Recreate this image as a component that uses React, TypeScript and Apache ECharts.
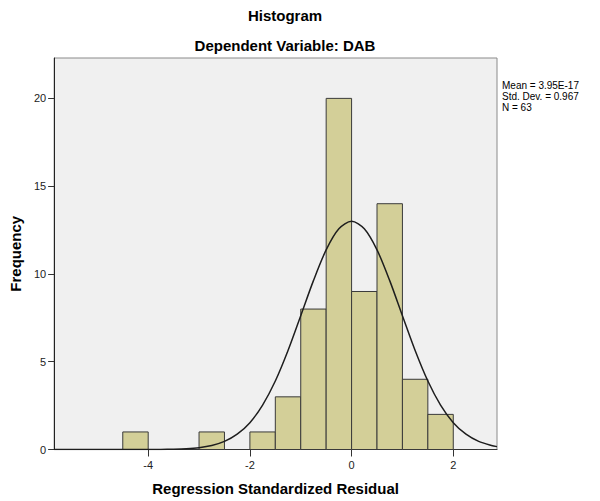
import React, { useEffect, useRef } from "react";
import * as echarts from "echarts";

// Histogram bins: [start, end] and frequency
const binStarts = [-4.5, -3, -2, -1.5, -1, -0.5, 0, 0.5, 1, 1.5];
const binEnds = [-4, -2.5, -1.5, -1, -0.5, 0, 0.5, 1, 1.5, 2];
const counts = [1, 1, 1, 3, 8, 20, 9, 14, 4, 2];

// Normal curve
const curveX = [-5.85, -5.5, -5, -4.5, -4.25, -4, -3.75, -3.5, -3.25, -3, -2.75, -2.5, -2.25, -2, -1.75, -1.5, -1.25, -1, -0.75, -0.5, -0.25, 0, 0.25, 0.5, 0.75, 1, 1.25, 1.5, 1.75, 2, 2.25, 2.5, 2.75, 2.86];
const curveY = [0, 0, 0, 0, 0.001, 0.002, 0.007, 0.019, 0.046, 0.106, 0.228, 0.46, 0.87, 1.53, 2.53, 3.9, 5.64, 7.62, 9.62, 11.37, 12.57, 13.0, 12.57, 11.37, 9.62, 7.62, 5.64, 3.9, 2.53, 1.53, 0.87, 0.46, 0.228, 0.164];

const xTicks = [-4, -2, 0, 2];
const yTicks = [0, 5, 10, 15, 20];

const titleText = "Histogram";
const subtitleText = "Dependent Variable: DAB";
const statLines = ["Mean = 3.95E-17", "Std. Dev. = 0.967", "N = 63"];
const xName = "Regression Standardized Residual";
const yName = "Frequency";

const FONT = "'Liberation Sans', Arial, sans-serif";

export default function App() {
  const ref = useRef<HTMLDivElement>(null);
  useEffect(() => {
    if (!ref.current) return;
    const chart = echarts.init(ref.current, null, { renderer: "svg" });
    const bins = binStarts.map((s, i) => [s, binEnds[i], counts[i]]);
    const curve = curveX.map((x, i) => [x, curveY[i]]);
    chart.setOption({
      animation: false,
      backgroundColor: "#ffffff",
      textStyle: { fontFamily: FONT },
      grid: {
        left: 52,
        right: 103,
        top: 58,
        bottom: 51.5,
        show: true,
        backgroundColor: "#f0f0f0",
        borderColor: "#8a8a8a",
        borderWidth: 1,
      },
      xAxis: {
        type: "value",
        min: -5.85,
        max: 2.86,
        name: xName,
        nameLocation: "middle",
        nameGap: 31,
        nameTextStyle: { fontSize: 15, fontWeight: "bold", color: "#000", fontFamily: FONT },
        axisLine: { show: true, onZero: false, lineStyle: { color: "#333", width: 1 } },
        axisTick: { show: true, length: 7, customValues: xTicks, lineStyle: { color: "#333" } },
        axisLabel: { customValues: xTicks, fontSize: 11, color: "#222", margin: 10, fontFamily: FONT },
        splitLine: { show: false },
      },
      yAxis: {
        type: "value",
        min: 0,
        max: 22.3,
        name: yName,
        nameLocation: "middle",
        nameGap: 29,
        nameTextStyle: { fontSize: 15, fontWeight: "bold", color: "#000", fontFamily: FONT },
        axisLine: { show: true, onZero: false, lineStyle: { color: "#222", width: 1 } },
        axisTick: { show: true, length: 6, customValues: yTicks, lineStyle: { color: "#333" } },
        axisLabel: { customValues: yTicks, fontSize: 11, color: "#222", margin: 8, fontFamily: FONT },
        splitLine: { show: false },
      },
      graphic: [
        {
          type: "text",
          x: 285,
          y: 15,
          style: { text: titleText, font: `bold 15px ${FONT}`, fill: "#000", align: "center", verticalAlign: "middle" },
        },
        {
          type: "text",
          x: 285,
          y: 45,
          style: { text: subtitleText, font: `bold 15px ${FONT}`, fill: "#000", align: "center", verticalAlign: "middle" },
        },
        {
          type: "text",
          x: 502,
          y: 80,
          style: { text: statLines.join("\n"), font: `10px ${FONT}`, lineHeight: 11, fill: "#000", align: "left", verticalAlign: "top" },
        },
      ],
      series: [
        {
          type: "custom",
          data: bins,
          encode: { x: [0, 1], y: 2 },
          z: 2,
          renderItem: (params: any, api: any) => {
            const s = api.value(0);
            const e = api.value(1);
            const c = api.value(2);
            const p0 = api.coord([s, c]);
            const p1 = api.coord([e, 0]);
            return {
              type: "rect",
              shape: { x: p0[0], y: p0[1], width: p1[0] - p0[0], height: p1[1] - p0[1] },
              style: { fill: "#d3cf98", stroke: "#3a3a3a", lineWidth: 1 },
            };
          },
        },
        {
          type: "line",
          data: curve,
          smooth: 0.3,
          showSymbol: false,
          symbol: "none",
          z: 3,
          lineStyle: { color: "#1e1e1e", width: 1.5 },
        },
      ],
    });
    return () => chart.dispose();
  }, []);
  return <div ref={ref} style={{ position: "absolute", left: 0, top: 0, width: 600, height: 501 }} />;
}
